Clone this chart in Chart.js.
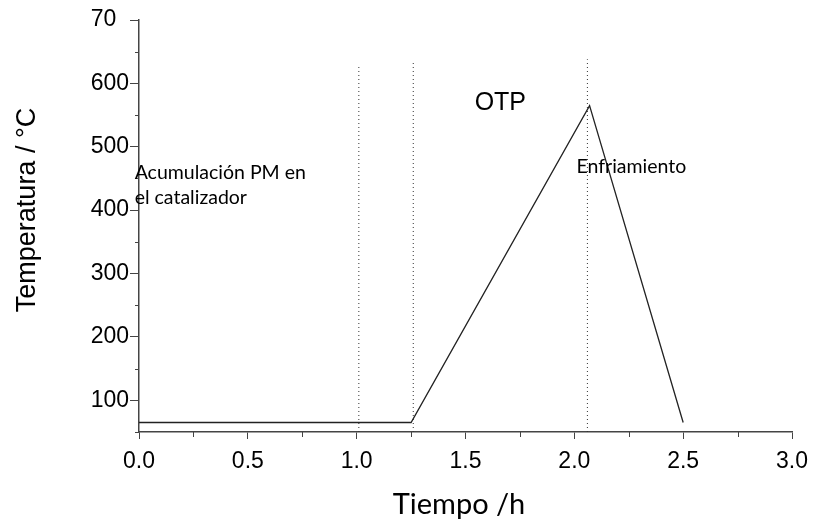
<!DOCTYPE html>
<html>
<head>
<meta charset="utf-8">
<script src="https://cdn.jsdelivr.net/npm/chart.js@4/dist/chart.umd.min.js"></script>
<style>
  html, body { margin: 0; padding: 0; background: #fff; }
  #wrap { width: 815px; height: 519px; }
</style>
</head>
<body>
<div id="wrap"><canvas id="c" width="815" height="519"></canvas></div>
<script>
// Temperature programme: hold, ramp (OTP), cool down
const timeH = [0, 1.25, 2.07, 2.5];
const tempC = [65, 65, 565, 65];

// Dotted phase boundaries (time, top of the line)
const phaseTimes = [1.01, 1.26, 2.06];
const phaseTops = [626, 634, 638];

// Axis ticks
const xMajorTicks = [0, 0.5, 1, 1.5, 2, 2.5, 3];
const xMinorTicks = [0.25, 0.75, 1.25, 1.75, 2.25, 2.75];
const xTickLabels = ['0.0', '0.5', '1.0', '1.5', '2.0', '2.5', '3.0'];
const yMajorTicks = [100, 200, 300, 400, 500, 600, 700];
const yMinorTicks = [50, 150, 250, 350, 450, 550, 650];
const yTickLabels = ['100', '200', '300', '400', '500', '600', '70\u2007'];

// Phase annotations
const noteTexts = ['OTP', 'Acumulación PM en', 'el catalizador', 'Enfriamiento'];
const noteX = [1.66, -0.02, -0.02, 2.01];
const noteY = [569, 459, 419, 468];

const AXIS = '#444';
const noteStyle = [
  { font: '25px "Liberation Sans", Arial, sans-serif', align: 'center' },
  { font: '19.5px Lato, "Noto Sans", sans-serif', align: 'left' },
  { font: '19.5px Lato, "Noto Sans", sans-serif', align: 'left' },
  { font: '19.5px Lato, "Noto Sans", sans-serif', align: 'left' }
];

const datasets = [{
  data: timeH.map((t, i) => ({ x: t, y: tempC[i] })),
  borderColor: '#222',
  borderWidth: 1.3,
  pointRadius: 0,
  tension: 0
}];
phaseTimes.forEach((t, i) => {
  datasets.push({
    data: [{ x: t, y: 50 }, { x: t, y: phaseTops[i] }],
    borderColor: '#333',
    borderWidth: 1,
    borderDash: [1, 3],
    pointRadius: 0
  });
});

const extras = {
  id: 'extras',
  afterDraw(chart) {
    const ctx = chart.ctx;
    const xs = chart.scales.x, ys = chart.scales.y;
    ctx.save();
    // minor tick marks
    ctx.strokeStyle = AXIS;
    ctx.lineWidth = 1;
    yMinorTicks.forEach(v => {
      const p = Math.round(ys.getPixelForValue(v)) + 0.5;
      ctx.beginPath(); ctx.moveTo(xs.left - 4, p); ctx.lineTo(xs.left, p); ctx.stroke();
    });
    xMinorTicks.forEach(v => {
      const p = Math.round(xs.getPixelForValue(v)) + 0.5;
      ctx.beginPath(); ctx.moveTo(p, ys.bottom); ctx.lineTo(p, ys.bottom + 5); ctx.stroke();
    });
    // phase annotations
    ctx.fillStyle = '#000';
    ctx.textBaseline = 'middle';
    noteTexts.forEach((txt, i) => {
      ctx.font = noteStyle[i].font;
      ctx.textAlign = noteStyle[i].align;
      ctx.fillText(txt, xs.getPixelForValue(noteX[i]), ys.getPixelForValue(noteY[i]));
    });
    // axis titles
    ctx.textAlign = 'center';
    ctx.font = '29px Lato, "Noto Sans", sans-serif';
    ctx.fillText('Tiempo /h', 459, 505);
    ctx.translate(28, 210);
    ctx.rotate(-Math.PI / 2);
    ctx.font = '27px "Liberation Sans", Arial, sans-serif';
    ctx.fillText('Temperatura / °C', 0, 0);
    ctx.restore();
  }
};

new Chart(document.getElementById('c'), {
  type: 'line',
  data: { datasets },
  plugins: [extras],
  options: {
    responsive: false,
    animation: false,
    events: [],
    layout: { padding: { left: 0, top: 20, right: 23, bottom: 0 } },
    plugins: { legend: { display: false }, tooltip: { enabled: false } },
    scales: {
      x: {
        type: 'linear',
        min: 0, max: 3,
        afterBuildTicks: s => { s.ticks = xMajorTicks.map(v => ({ value: v })); },
        afterFit: s => { s.height = 87; s.paddingLeft = 0; s.paddingRight = 0; },
        ticks: {
          autoSkip: false, maxRotation: 0, padding: 9,
          color: '#000',
          font: { family: '"Liberation Sans", Arial, sans-serif', size: 23 },
          callback: (v, i) => xTickLabels[i]
        },
        grid: { drawOnChartArea: false, drawTicks: true, tickLength: 7, color: AXIS, tickWidth: 1 },
        border: { display: true, color: AXIS, width: 1.5 }
      },
      y: {
        type: 'linear',
        min: 50, max: 700,
        afterBuildTicks: s => { s.ticks = yMajorTicks.map(v => ({ value: v })); },
        afterFit: s => { s.width = 139; s.paddingTop = 0; s.paddingBottom = 0; },
        ticks: {
          autoSkip: false, padding: 1,
          color: '#000',
          font: { family: '"Liberation Sans", Arial, sans-serif', size: 23 },
          callback: (v, i) => yTickLabels[i]
        },
        grid: { drawOnChartArea: false, drawTicks: true, tickLength: 9, color: AXIS, tickWidth: 1 },
        border: { display: true, color: AXIS, width: 1.5 }
      }
    }
  }
});
</script>
</body>
</html>
